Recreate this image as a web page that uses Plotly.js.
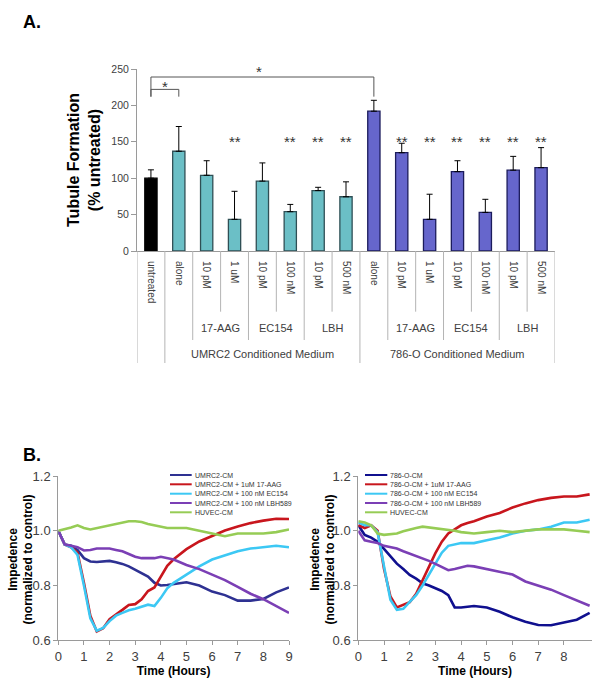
<!DOCTYPE html>
<html>
<head>
<meta charset="utf-8">
<script src="https://cdn.plot.ly/plotly-3.0.1.min.js"></script>
<style>
  body { margin: 0; background: #fff; }
  #fig { width: 600px; height: 692px; }
</style>
</head>
<body>
<div id="fig"></div>
<script>
/**
 * Panel A data: tubule formation (% untreated)
 */
const catLabels = ['untreated', 'alone', '10 pM', '1 uM', '10 pM', '100 nM', '10 pM', '500 nM',
                   'alone', '10 pM', '1 uM', '10 pM', '100 nM', '10 pM', '500 nM'];
const drugGroup = ['', '', '17-AAG', '17-AAG', 'EC154', 'EC154', 'LBH', 'LBH',
                   '', '17-AAG', '17-AAG', 'EC154', 'EC154', 'LBH', 'LBH'];
const mediumGroup = ['',
    'UMRC2 Conditioned Medium', 'UMRC2 Conditioned Medium', 'UMRC2 Conditioned Medium',
    'UMRC2 Conditioned Medium', 'UMRC2 Conditioned Medium', 'UMRC2 Conditioned Medium',
    'UMRC2 Conditioned Medium',
    '786-O Conditioned Medium', '786-O Conditioned Medium', '786-O Conditioned Medium',
    '786-O Conditioned Medium', '786-O Conditioned Medium', '786-O Conditioned Medium',
    '786-O Conditioned Medium'];
const tubule    = [100, 137, 104, 43.5, 96, 54, 83, 74.5, 192, 135, 43.5, 109, 53, 111, 114.5];
const tubuleErr = [11.5, 34, 20, 38.5, 25, 10, 4.5, 20.5, 15, 13, 34.5, 15, 18, 19, 27.5];
const signif    = ['', '', '', '**', '', '**', '**', '**', '', '**', '**', '**', '**', '**', '**'];

/**
 * Panel B data: impedence over time
 */
const hours = [0, 0.25, 0.5, 0.75, 1, 1.25, 1.5, 1.75, 2, 2.25, 2.5, 2.75, 3, 3.25, 3.5, 3.75,
               4, 4.25, 4.5, 5, 5.5, 6, 6.5, 7, 7.5, 8, 8.5, 9];

const umrcNames = ['UMRC2-CM', 'UMRC2-CM + 1uM 17-AAG', 'UMRC2-CM + 100 nM EC154',
                   'UMRC2-CM + 100 nM LBH589', 'HUVEC-CM'];
const umrcCM   = [1.0, 0.95, 0.945, 0.93, 0.9, 0.888, 0.886, 0.887, 0.89, 0.885, 0.879, 0.87, 0.857, 0.845,
                  0.833, 0.81, 0.8, 0.802, 0.805, 0.812, 0.8, 0.778, 0.765, 0.745, 0.745, 0.751, 0.775, 0.793];
const umrcAAG  = [1.0, 0.95, 0.94, 0.92, 0.81, 0.69, 0.632, 0.644, 0.677, 0.693, 0.711, 0.729, 0.732, 0.75,
                  0.78, 0.793, 0.833, 0.872, 0.896, 0.933, 0.961, 0.982, 1.001, 1.016, 1.028, 1.037, 1.044, 1.043];
const umrcEC   = [1.0, 0.95, 0.94, 0.912, 0.8, 0.68, 0.635, 0.645, 0.67, 0.69, 0.7, 0.71, 0.715, 0.722,
                  0.73, 0.725, 0.755, 0.79, 0.81, 0.84, 0.87, 0.895, 0.91, 0.925, 0.935, 0.94, 0.945, 0.94];
const umrcLBH  = [1.0, 0.95, 0.945, 0.94, 0.928, 0.93, 0.935, 0.935, 0.935, 0.93, 0.925, 0.915, 0.905, 0.9,
                  0.9, 0.9, 0.905, 0.9, 0.895, 0.875, 0.86, 0.84, 0.82, 0.795, 0.77, 0.75, 0.725, 0.7];
const umrcHUVEC = [1.0, 1.005, 1.012, 1.02, 1.01, 1.005, 1.01, 1.015, 1.02, 1.025, 1.03, 1.035, 1.035, 1.032,
                   1.025, 1.02, 1.015, 1.01, 1.01, 1.01, 1.0, 0.99, 0.98, 0.99, 0.99, 0.99, 0.995, 1.005];

const o786Names = ['786-O-CM', '786-O-CM + 1uM 17-AAG', '786-O-CM + 100 nM EC154',
                   '786-O-CM + 100 nM LBH589', 'HUVEC-CM'];
const o786CM   = [1.02, 0.985, 0.975, 0.96, 0.934, 0.906, 0.88, 0.86, 0.839, 0.825, 0.808, 0.8, 0.79, 0.78,
                  0.765, 0.72, 0.72, 0.722, 0.725, 0.72, 0.704, 0.684, 0.668, 0.656, 0.655, 0.665, 0.675, 0.7];
const o786AAG  = [1.02, 1.01, 1.02, 1.0, 0.861, 0.76, 0.72, 0.73, 0.739, 0.77, 0.82, 0.87, 0.918, 0.96,
                  0.99, 1.005, 1.02, 1.028, 1.035, 1.052, 1.065, 1.085, 1.1, 1.112, 1.12, 1.125, 1.125, 1.133];
const o786EC   = [1.03, 1.02, 1.02, 0.995, 0.87, 0.748, 0.711, 0.715, 0.74, 0.765, 0.8, 0.84, 0.882, 0.92,
                  0.945, 0.95, 0.955, 0.955, 0.955, 0.965, 0.975, 0.99, 1.0, 1.005, 1.015, 1.03, 1.03, 1.04];
const o786LBH  = [1.0, 0.965, 0.96, 0.955, 0.945, 0.94, 0.935, 0.925, 0.916, 0.908, 0.9, 0.89, 0.879, 0.868,
                  0.856, 0.86, 0.865, 0.872, 0.87, 0.86, 0.85, 0.84, 0.815, 0.8, 0.785, 0.765, 0.745, 0.726];
const o786HUVEC = [1.035, 1.03, 1.02, 0.99, 0.985, 0.988, 0.99, 0.998, 1.005, 1.01, 1.015, 1.012, 1.01, 1.007,
                   1.005, 1.0, 0.995, 0.993, 0.99, 0.995, 1.0, 0.995, 1.0, 1.005, 1.005, 1.005, 1.0, 0.995];

/**
 * Colors
 */
const mediumColor = {'': '#000000', 'UMRC2 Conditioned Medium': '#6BBFC6', '786-O Conditioned Medium': '#6666CC'};
const mediumEdge  = {'': '#000000', 'UMRC2 Conditioned Medium': '#2F4F55', '786-O Conditioned Medium': '#1C1C5C'};
const umrcColors = ['#2E3192', '#C8161D', '#3CC8F4', '#7B3FB5', '#96CC55'];
const o786Colors = ['#10108F', '#C8161D', '#3CC8F4', '#7B3FB5', '#96CC55'];
const textColor = '#404040';
const axisColor = '#9a9a9a';
const dividerColor = '#b4b4b4';
const fontFam = 'Arial, "Liberation Sans", sans-serif';

// page pixel -> paper coords
const W = 600, H = 692;
const px = v => v / W;
const py = v => 1 - v / H;

const axisYA = py(251);   // bottom of panel A plot area

/**
 * Panel A traces
 */
const idx = catLabels.map((_, i) => i);
const barTrace = {
    type: 'bar',
    x: idx,
    y: tubule,
    xaxis: 'x', yaxis: 'y',
    marker: {
        color: mediumGroup.map(m => mediumColor[m]),
        line: {color: mediumGroup.map(m => mediumEdge[m]), width: 1.3}
    },
    error_y: {
        type: 'data',
        symmetric: false,
        array: tubuleErr,
        arrayminus: tubuleErr.map(() => 0),
        color: '#000',
        thickness: 1,
        width: 3
    },
    showlegend: false,
    hoverinfo: 'none'
};

/**
 * Panel B traces
 */
function lineTraces(series, names, colors, xa, ya) {
    return series.map((s, i) => ({
        type: 'scatter',
        mode: 'lines',
        x: hours,
        y: s,
        name: names[i],
        xaxis: xa, yaxis: ya,
        line: {color: colors[i], width: 2.6},
        showlegend: false,
        hoverinfo: 'none'
    }));
}

const left = lineTraces([umrcCM, umrcAAG, umrcEC, umrcLBH, umrcHUVEC], umrcNames, umrcColors, 'x2', 'y2');
const right = lineTraces([o786CM, o786AAG, o786EC, o786LBH, o786HUVEC], o786Names, o786Colors, 'x3', 'y3');

/**
 * Annotations and shapes
 */
const annotations = [];
const shapes = [];

// panel letters
annotations.push({xref: 'paper', yref: 'paper', x: px(21), y: py(22), xanchor: 'left', yanchor: 'middle',
    text: '<b>A.</b>', showarrow: false, font: {size: 18, color: '#000'}});
annotations.push({xref: 'paper', yref: 'paper', x: px(21), y: py(455), xanchor: 'left', yanchor: 'middle',
    text: '<b>B.</b>', showarrow: false, font: {size: 18, color: '#000'}});

// significance stars over bars
signif.forEach((s, i) => {
    if (!s) return;
    annotations.push({xref: 'x', yref: 'y', x: i, y: 151, text: s, showarrow: false,
        font: {size: 15, color: '#333'}, yanchor: 'middle'});
});

// comparison brackets
const brackets = [
    {from: 0, to: 1, top: 222, foot: 212, star: '*'},
    {from: 0, to: 8, top: 239, foot: 212, star: '*'}
];
brackets.forEach(b => {
    shapes.push({type: 'path', xref: 'x', yref: 'y',
        path: `M${b.from},${b.foot} L${b.from},${b.top} L${b.to},${b.top} L${b.to},${b.foot}`,
        line: {color: '#555', width: 1}});
});
annotations.push({xref: 'x', yref: 'y', x: 0.5, y: 226, text: '*', showarrow: false, font: {size: 15, color: '#333'}});
annotations.push({xref: 'x', yref: 'y', x: 3.86, y: 247, text: '*', showarrow: false, font: {size: 15, color: '#333'}});

// category table dividers (three levels, like the spreadsheet axis)
const depth = {1: py(311.7), 2: py(340), 3: py(363)};
for (let b = -1; b < catLabels.length; b++) {
    let level;
    if (b < 0 || b === catLabels.length - 1 || mediumGroup[b] !== mediumGroup[b + 1]) level = 3;
    else if (drugGroup[b] !== drugGroup[b + 1]) level = 2;
    else level = 1;
    shapes.push({type: 'line', xref: 'x', yref: 'paper', x0: b + 0.5, x1: b + 0.5,
        y0: axisYA, y1: depth[level], line: {color: dividerColor, width: 1}});
}

// group labels (drug and medium rows)
function groupRuns(arr) {
    const runs = [];
    let start = 0;
    for (let i = 1; i <= arr.length; i++) {
        if (i === arr.length || arr[i] !== arr[start]) {
            if (arr[start]) runs.push({label: arr[start], mid: (start + i - 1) / 2});
            start = i;
        }
    }
    return runs;
}
groupRuns(drugGroup).forEach(r => annotations.push({xref: 'x', yref: 'paper', x: r.mid, y: py(328),
    text: r.label, showarrow: false, yanchor: 'middle', font: {size: 11, color: textColor}}));
groupRuns(mediumGroup).forEach(r => annotations.push({xref: 'x', yref: 'paper', x: r.mid, y: py(354),
    text: r.label, showarrow: false, yanchor: 'middle', font: {size: 11, color: textColor}}));

// hand-drawn legends for panel B (compact rows like the original)
function miniLegend(names, colors, x0, x1) {
    const rows = [475, 484.3, 493.7, 503, 512.3];
    names.forEach((n, i) => {
        shapes.push({type: 'line', xref: 'paper', yref: 'paper', x0: px(x0), x1: px(x1),
            y0: py(rows[i]), y1: py(rows[i]), line: {color: colors[i], width: 2}});
        annotations.push({xref: 'paper', yref: 'paper', x: px(x1 + 1), y: py(rows[i]),
            xanchor: 'left', yanchor: 'middle', text: n, showarrow: false,
            font: {size: 7, color: '#333'}});
    });
}
miniLegend(umrcNames, umrcColors, 170, 191.7);
miniLegend(o786Names, o786Colors, 365, 387.3);

// y titles for panel B
[[20.5, 'x2'], [322.5, 'x3']].forEach(([xp]) => {
    annotations.push({xref: 'paper', yref: 'paper', x: px(xp), y: py(560), textangle: -90,
        text: '<b>Impedence</b><br><b>(normalized to control)</b>', showarrow: false,
        xanchor: 'center', yanchor: 'middle', font: {size: 12, color: '#000'}});
});

/**
 * Axes
 */
const tickFontB = {size: 13, color: textColor};
function timeAxis(domain, range, tickvals) {
    return {
        domain: domain, range: range, tickvals: tickvals,
        showline: true, linecolor: axisColor, ticks: 'outside', ticklen: 4, tickcolor: axisColor,
        showgrid: false, zeroline: false, tickfont: tickFontB,
        title: {text: '<b>Time (Hours)</b>', font: {size: 12, color: '#000'}, standoff: 2}
    };
}
function impAxis(domain, anchor) {
    return {
        domain: domain, range: [0.6, 1.2], dtick: 0.2, tickformat: '.1f', anchor: anchor,
        showline: true, linecolor: axisColor, ticks: 'outside', ticklen: 4, tickcolor: axisColor,
        showgrid: false, zeroline: false, tickfont: tickFontB
    };
}

const layout = {
    width: W, height: H,
    margin: {l: 0, r: 0, t: 0, b: 0},
    paper_bgcolor: '#fff', plot_bgcolor: '#fff',
    font: {family: fontFam, color: textColor},
    showlegend: false,
    bargap: 0.56,
    xaxis: {
        domain: [px(137), px(555)], anchor: 'y',
        range: [-0.5, catLabels.length - 0.5],
        tickvals: idx, ticktext: catLabels, tickangle: 90,
        tickfont: {size: 10, color: textColor},
        ticks: 'outside', ticklen: 7, tickcolor: 'rgba(0,0,0,0)',
        showline: true, linecolor: axisColor, showgrid: false, zeroline: false
    },
    yaxis: {
        domain: [py(251), py(69)], anchor: 'x',
        range: [0, 250], dtick: 50,
        tickfont: {size: 10.5, color: textColor},
        ticks: 'outside', ticklen: 5, tickcolor: axisColor,
        showline: true, linecolor: axisColor, showgrid: false, zeroline: false,
        title: {text: '<b>Tubule Formation</b><br><b>(% untreated)</b>',
                font: {size: 16, color: '#000'}, standoff: 6}
    },
    xaxis2: Object.assign(timeAxis([px(58.3), px(289)], [0, 9], [0, 1, 2, 3, 4, 5, 6, 7, 8, 9]), {anchor: 'y2'}),
    yaxis2: impAxis([py(640.3), py(476)], 'x2'),
    xaxis3: Object.assign(timeAxis([px(358.3), px(591.7)], [0, 9.08], [0, 1, 2, 3, 4, 5, 6, 7, 8]), {anchor: 'y3'}),
    yaxis3: impAxis([py(640.3), py(476)], 'x3'),
    annotations: annotations,
    shapes: shapes
};

Plotly.newPlot('fig', [barTrace].concat(left, right), layout, {staticPlot: true, displayModeBar: false});
</script>
</body>
</html>
